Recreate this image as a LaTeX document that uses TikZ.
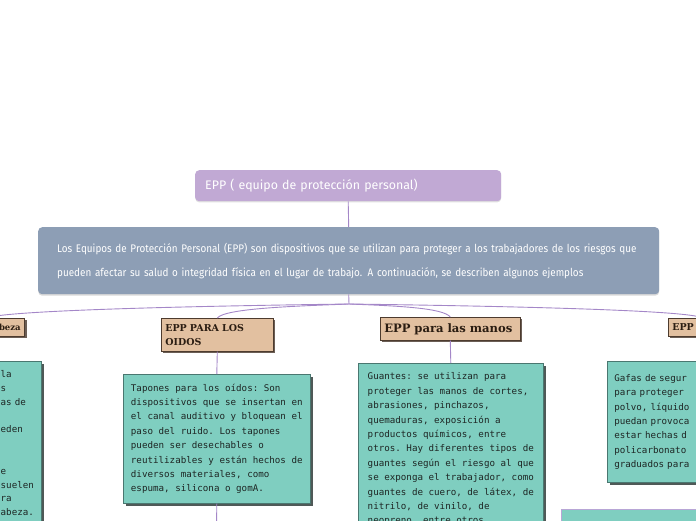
\documentclass[tikz,border=0pt]{standalone}
\usepackage{fontspec}
\newfontfamily\titlef{Fira Sans}
\newfontfamily\bodyf{Fira Sans}[FakeStretch=0.9]
\newfontfamily\headf{DejaVu Serif}
\newfontfamily\monof{DejaVu Sans Mono}
\definecolor{titlec}{HTML}{C1A9D4}
\definecolor{mainc}{HTML}{8D9EB5}
\definecolor{connc}{HTML}{A487C8}
\definecolor{headc}{HTML}{E2C0A0}
\definecolor{headline}{HTML}{4D3B2E}
\definecolor{headshadow}{HTML}{6B5E55}
\definecolor{headtext}{HTML}{2B1D12}
\definecolor{detc}{HTML}{7FCEC0}
\definecolor{detline}{HTML}{4A7770}
\definecolor{detshadow}{HTML}{4F5957}
\definecolor{dettextc}{HTML}{1E2624}
\definecolor{lavline}{HTML}{B8A6D6}
\tikzset{
  conn/.style={draw=connc, line width=0.9pt},
  titlebox/.style={fill=titlec, rounded corners=4pt, text=white,
    font=\titlef\fontsize{12.4}{14}\selectfont, align=left, inner ysep=0pt,
    preaction={fill=black!12, transform canvas={shift={(0pt,-1.2pt)}}}},
  mainbox/.style={fill=mainc, rounded corners=4pt, text=white,
    font=\bodyf\fontsize{11}{24}\selectfont, align=left, inner ysep=0pt,
    preaction={fill=black!15, transform canvas={shift={(0pt,-1.5pt)}}}},
  headbox/.style={fill=headc, draw=headline, line width=0.6pt, text=headtext,
    font=\headf\bfseries\fontsize{9.5}{14}\selectfont, inner ysep=0pt,
    preaction={fill=headshadow, transform canvas={shift={(2pt,-2pt)}}}},
  detbox/.style={fill=detc, draw=detline, line width=0.6pt, text=dettextc,
    font=\monof\frenchspacing\fontsize{9.2}{14.4}\selectfont, align=left,
    preaction={fill=detshadow, transform canvas={shift={(2.2pt,-2.2pt)}}}},
  dettext/.style={text=dettextc, font=\monof\frenchspacing\fontsize{9.2}{13.8}\selectfont, align=left, inner sep=0pt}
}
\begin{document}
\begin{tikzpicture}[x=1pt,y=-1pt]
\useasboundingbox (0,0) rectangle (696,520);

% title and main description
\node[titlebox, anchor=north west, minimum width=306pt, minimum height=31pt,
  text width=286pt, inner xsep=10pt] (title) at (195,170)
  {EPP ( equipo de protección personal)};
\node[mainbox, anchor=north west, minimum width=621pt, minimum height=67pt,
  text width=583pt, inner xsep=19pt] (main) at (38,227)
  {Los Equipos de Protección Personal (EPP) son dispositivos que se utilizan para proteger a los trabajadores de los riesgos que\\
   pueden afectar su salud o integridad física en el lugar de trabajo. A continuación, se describen algunos ejemplos};

% headers
\node[headbox, anchor=north east, minimum height=18pt, text width=70pt,
  inner xsep=4pt, align=right, font=\headf\bfseries\fontsize{8.5}{14}\selectfont] (lefthead) at (25,318) {beza};
\node[headbox, anchor=north west, minimum height=33pt, text width=104pt,
  inner xsep=4pt, align=left] (oidos) at (161,318) {EPP PARA LOS\\OIDOS};
\node[headbox, anchor=north west, minimum height=23pt, text width=132pt,
  inner xsep=4pt, align=left, font=\headf\bfseries\fontsize{11.6}{14}\selectfont] (manos) at (380,317) {EPP para las manos};
\node[headbox, anchor=north west, minimum height=18pt, text width=60pt,
  inner xsep=4pt, align=left] (righthead) at (668,318) {EPP};

% detail boxes
\node[detbox, anchor=north east, minimum width=150pt, minimum height=200pt] (leftdet) at (42,361) {};
\node[dettext, anchor=north west, text width=40pt] (lefttxt) at (0.5,370.5)
  {la\\s\\as de\\\mbox{}\\eden\\\mbox{}\\\mbox{}\\e\\suelen\\ra\\abeza.};
\node[detbox, anchor=north west, minimum width=187pt, inner xsep=0pt, inner ysep=9.5pt] (oidosdet) at (123,374)
  {Tapones para los oídos: Son\\
   dispositivos que se insertan en\\
   el canal auditivo y bloquean el\\
   paso del ruido. Los tapones\\
   pueden ser desechables o\\
   reutilizables y están hechos de\\
   diversos materiales, como\\
   espuma, silicona o gomA.};
\node[detbox, anchor=north west, minimum width=185pt, inner xsep=0pt, inner ysep=9.5pt] (manosdet) at (358,363)
  {Guantes: se utilizan para\\
   proteger las manos de cortes,\\
   abrasiones, pinchazos,\\
   quemaduras, exposición a\\
   productos químicos, entre\\
   otros. Hay diferentes tipos de\\
   guantes según el riesgo al que\\
   se exponga el trabajador, como\\
   guantes de cuero, de látex, de\\
   nitrilo, de vinilo, de\\
   neopreno, entre otros.};
\node[detbox, anchor=north west, text width=120pt, inner xsep=7pt, inner ysep=13pt] (rightdet) at (607,361)
  {Gafas de segur\\
   para proteger\\
   polvo, líquido\\
   puedan provoca\\
   estar hechas d\\
   policarbonato\\
   graduados para};
\node[fill=detc, draw=lavline, line width=0.8pt, anchor=north west,
  minimum width=150pt, minimum height=40pt] (botright) at (561,509) {};

% connectors
\coordinate (fork) at (349,304);
\coordinate (oidosdown) at (216.5,530);
\draw[conn] (title.south) -- (main.north);
\draw[conn] (main.south) -- (fork);
\draw[conn] (fork) .. controls (300,306) and (225,308) .. (oidos.north);
\draw[conn] (fork) .. controls (400,306) and (443,308) .. (manos.north);
\draw[conn] (fork) .. controls (200,306) and (10,310) .. (lefthead.north);
\draw[conn] (fork) .. controls (500,306) and (690,310) .. (righthead.north);
\draw[conn] (oidos.south) -- (oidosdet.north);
\draw[conn] (oidosdet.south) -- (oidosdown);
\draw[conn] (manos.south) -- (manosdet.north);
\end{tikzpicture}
\end{document}
